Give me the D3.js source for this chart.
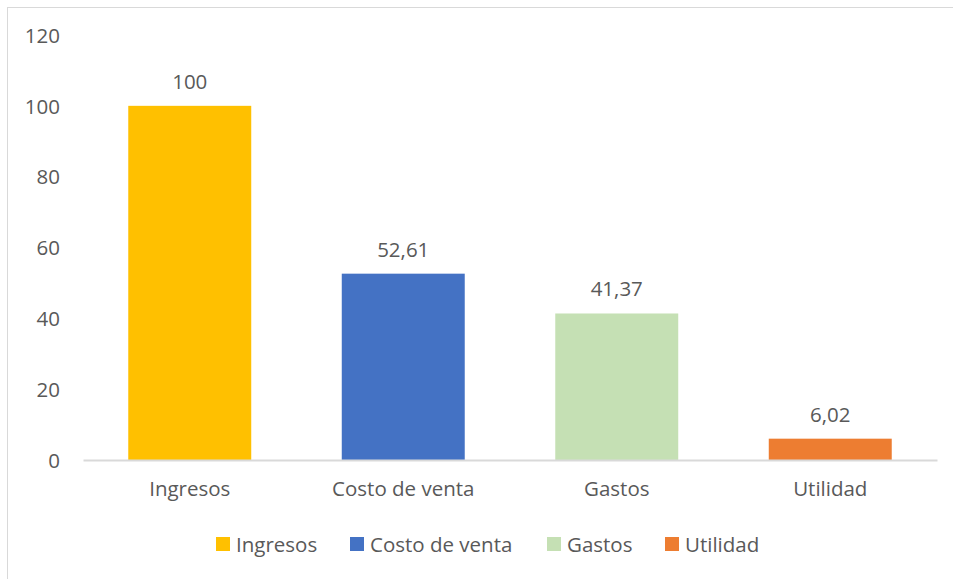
<!DOCTYPE html>
<html>
<head>
<meta charset="utf-8">
<script src="https://cdn.jsdelivr.net/npm/d3@7"></script>
<style>
  body { margin: 0; background: #fff; }
  text { font-family: "Open Sans", sans-serif; fill: #595959; }
</style>
</head>
<body>
<svg id="chart" width="953" height="579"></svg>
<script>
// chart data
var categories = ['Ingresos', 'Costo de venta', 'Gastos', 'Utilidad'];
var values = [100, 52.61, 41.37, 6.02];
var valueLabels = ['100', '52,61', '41,37', '6,02'];
var colors = ['#FFC000', '#4472C4', '#C5E0B4', '#ED7D31'];
var yTicks = [0, 20, 40, 60, 80, 100, 120];

var svg = d3.select('#chart');
var fs = '20.5px';

// chart border (only left/top visible in frame)
svg.append('rect')
  .attr('x', 7.5).attr('y', 7.5)
  .attr('width', 960).attr('height', 600)
  .attr('fill', 'none')
  .attr('stroke', '#d9d9d9');

var margin = {top: 35, left: 83};

var g = svg.append('g')
  .attr('transform', 'translate(' + margin.left + ',' + margin.top + ')');

var x = d3.scaleBand().domain(categories).range([0, 854]).paddingInner(0.424).paddingOuter(0.212);
var y = d3.scaleLinear().domain([0, 120]).range([425, 0]);

// y axis labels
var yAxis = g.append('g')
  .call(d3.axisLeft(y).tickValues(yTicks).tickSize(0).tickPadding(23));
yAxis.select('.domain').remove();
yAxis.selectAll('text').style('font-size', fs).attr('dy', '0.35em');

// bars
g.selectAll('.bar')
  .data(values)
  .enter().append('rect')
  .attr('class', 'bar')
  .attr('x', function(d, i) { return x(categories[i]); })
  .attr('y', function(d) { return y(d); })
  .attr('width', x.bandwidth())
  .attr('height', function(d) { return y(0) - y(d); })
  .attr('fill', function(d, i) { return colors[i]; });

// x axis
var xAxis = g.append('g')
  .attr('transform', 'translate(0,' + y(0) + ')')
  .call(d3.axisBottom(x).tickSize(0).tickPadding(21));
xAxis.select('.domain').attr('stroke', '#d9d9d9').attr('stroke-width', 2);
xAxis.selectAll('text').style('font-size', fs);

// data labels
g.selectAll('.lbl')
  .data(values)
  .enter().append('text')
  .attr('class', 'lbl')
  .attr('x', function(d, i) { return x(categories[i]) + x.bandwidth() / 2; })
  .attr('y', function(d) { return y(d) - 17; })
  .attr('text-anchor', 'middle')
  .style('font-size', fs)
  .text(function(d, i) { return valueLabels[i]; });

// legend
var legX = [216, 350, 547, 665];
var leg = svg.append('g');
categories.forEach(function(c, i) {
  leg.append('rect')
    .attr('x', legX[i]).attr('y', 537)
    .attr('width', 14).attr('height', 14)
    .attr('fill', colors[i]);
  leg.append('text')
    .attr('x', legX[i] + 20).attr('y', 552)
    .style('font-size', fs)
    .text(c);
});
</script>
</body>
</html>
